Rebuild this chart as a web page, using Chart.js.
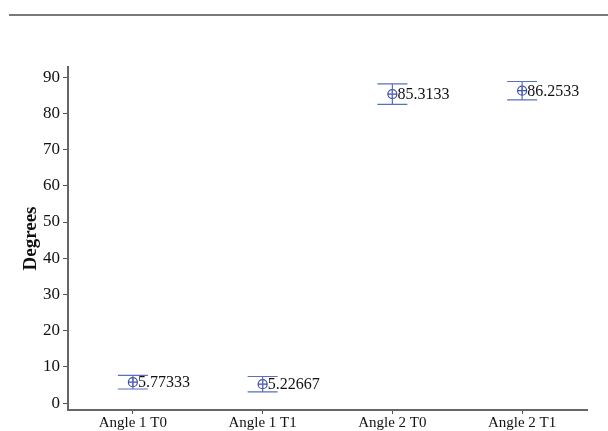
<!DOCTYPE html>
<html>
<head>
<meta charset="utf-8">
<script src="https://cdn.jsdelivr.net/npm/chart.js@4/dist/chart.umd.min.js"></script>
<style>
  html, body { margin: 0; padding: 0; background: #fff; }
  #wrap { position: relative; width: 608px; height: 431px; }
  #topline { position: absolute; left: 9px; right: 0; top: 14px; height: 2px; background: #7a7a7a; }
</style>
</head>
<body>
<div id="wrap">
  <div id="topline"></div>
  <canvas id="chart" width="608" height="431"></canvas>
</div>
<script>
const categories = ['Angle 1 T0', 'Angle 1 T1', 'Angle 2 T0', 'Angle 2 T1'];
const means = [5.77333, 5.22667, 85.3133, 86.2533];
const lowers = [3.9, 3.1, 82.5, 83.7];
const uppers = [7.65, 7.35, 88.15, 88.8];
const meanLabels = ['5.77333', '5.22667', '85.3133', '86.2533'];
const yTicks = [0, 10, 20, 30, 40, 50, 60, 70, 80, 90];

const serif = "'Liberation Serif', 'DejaVu Serif', serif";
const blue = '#3d4fa6';

// error bars and value labels
const errorBars = {
  id: 'errorBars',
  afterDatasetsDraw(chart) {
    const { ctx, scales: { x, y } } = chart;
    ctx.save();
    ctx.strokeStyle = '#5b6dbd';
    ctx.lineWidth = 1.2;
    means.forEach((m, i) => {
      const cx = x.getPixelForValue(i);
      const top = y.getPixelForValue(uppers[i]);
      const bot = y.getPixelForValue(lowers[i]);
      ctx.beginPath();
      ctx.moveTo(cx, top); ctx.lineTo(cx, bot);
      ctx.moveTo(cx - 15, top); ctx.lineTo(cx + 15, top);
      ctx.moveTo(cx - 15, bot); ctx.lineTo(cx + 15, bot);
      ctx.stroke();
      ctx.fillStyle = '#111';
      ctx.font = '16px ' + serif;
      ctx.textBaseline = 'middle';
      ctx.fillText(meanLabels[i], cx + 5, y.getPixelForValue(m) + 1);
    });
    ctx.restore();
  }
};

new Chart(document.getElementById('chart'), {
  type: 'line',
  data: {
    labels: categories,
    datasets: [
      {
        data: means,
        showLine: false,
        pointStyle: 'circle',
        pointRadius: 4.5,
        pointBorderWidth: 1.2,
        pointBackgroundColor: 'rgba(0,0,0,0)',
        pointBorderColor: blue
      },
      {
        data: means,
        showLine: false,
        pointStyle: 'cross',
        pointRadius: 4.5,
        pointBorderWidth: 1.2,
        pointBorderColor: blue
      }
    ]
  },
  options: {
    responsive: false,
    animation: false,
    layout: { padding: { top: 67, right: 21, left: 20, bottom: 0 } },
    plugins: { legend: { display: false }, tooltip: { enabled: false } },
    scales: {
      x: {
        offset: true,
        grid: { display: true, drawOnChartArea: false, drawTicks: true, tickLength: 4, color: '#555' },
        border: { display: true, color: '#666', width: 2 },
        ticks: { color: '#111', font: { family: serif, size: 15 }, padding: 0, maxRotation: 0 },
        afterFit: s => { s.height = 21; }
      },
      y: {
        min: -1.9,
        max: 92.8,
        afterBuildTicks: s => { s.ticks = yTicks.map(v => ({ value: v })); },
        grid: { display: true, drawOnChartArea: false, drawTicks: true, tickLength: 5, color: '#555' },
        border: { display: true, color: '#666', width: 2 },
        ticks: { color: '#111', font: { family: serif, size: 17 }, padding: 3 },
        title: { display: true, text: 'Degrees', color: '#111', font: { family: serif, size: 19, weight: 'bold' }, padding: 0 },
        afterFit: s => { s.width = 48; }
      }
    }
  },
  plugins: [errorBars]
});
</script>
</body>
</html>
